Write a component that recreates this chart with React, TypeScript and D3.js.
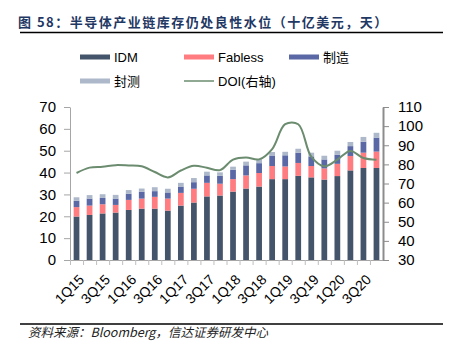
// Semiconductor inventory chart: stacked bars (left axis) + DOI line (right axis)

import React, { useEffect, useRef } from 'react'
import * as d3 from 'd3'

const quarters = [
  '1Q15', '2Q15', '3Q15', '4Q15', '1Q16', '2Q16', '3Q16', '4Q16',
  '1Q17', '2Q17', '3Q17', '4Q17', '1Q18', '2Q18', '3Q18', '4Q18',
  '1Q19', '2Q19', '3Q19', '4Q19', '1Q20', '2Q20', '3Q20', '4Q20',
]
const idm = [19.9, 20.6, 21.3, 21.7, 22.9, 23.5, 23.5, 22.6, 24.9, 26.3, 29.1, 29.5, 31.3, 32.7, 33.6, 37.0, 37.0, 38.5, 37.8, 36.8, 38.4, 41.0, 42.1, 42.1]
const fabless = [4.3, 4.3, 4.2, 3.5, 4.6, 4.6, 5.4, 5.5, 5.8, 6.3, 6.2, 5.4, 5.7, 6.0, 6.2, 6.0, 5.8, 5.9, 5.2, 5.1, 5.6, 6.6, 7.0, 7.5]
const foundry = [2.9, 3.2, 2.9, 2.9, 2.8, 3.1, 2.6, 2.8, 2.9, 3.0, 3.4, 3.6, 4.3, 4.6, 4.5, 4.8, 5.1, 4.7, 4.4, 4.1, 4.1, 4.5, 5.0, 6.4]
const osat = [1.6, 1.6, 1.7, 1.7, 1.7, 1.5, 1.8, 1.7, 1.7, 1.9, 1.7, 1.6, 1.4, 1.7, 1.9, 1.6, 1.6, 1.8, 1.7, 1.7, 1.9, 1.9, 2.2, 2.2]
const doi = [75.5, 78.3, 78.8, 79.6, 79.4, 79.0, 76.0, 73.2, 76.8, 79.3, 78.2, 77.0, 82.5, 83.6, 82.6, 88.0, 101.0, 101.0, 84.0, 79.0, 82.5, 87.0, 83.3, 82.4]

const seriesNames = ['IDM', 'Fabless', '制造', '封测']
const seriesColors = ['#44546A', '#FF7C80', '#5A69A6', '#ADB9CA']
const lineName = 'DOI(右轴)'
const lineColor = '#6B8C6F'

const leftTicks = [0, 10, 20, 30, 40, 50, 60, 70]
const rightTicks = [30, 40, 50, 60, 70, 80, 90, 100, 110]

const W = 453
const H = 351
const latin = '"Liberation Sans", Arial, "Noto Sans CJK SC", sans-serif'
const cjk = '"Noto Sans CJK SC", "Liberation Sans", sans-serif'

const App = () => {
  const ref = useRef<SVGSVGElement>(null)

  useEffect(() => {
    const svg = d3.select(ref.current)
    svg.selectAll('*').remove()

    const plot = { left: 70, right: 383, top: 107, bottom: 260 }

    // Title and rules
    svg.append('text')
      .attr('x', 18).attr('y', 27)
      .style('font-family', cjk).style('font-size', '13px').style('font-weight', 'bold')
      .style('letter-spacing', '1.5px')
      .attr('fill', '#1F3864')
      .text('图 58：半导体产业链库存仍处良性水位（十亿美元，天）')
    svg.append('line').attr('x1', 20).attr('x2', 443).attr('y1', 32.5).attr('y2', 32.5)
      .attr('stroke', '#000').attr('stroke-width', 1.5)
    svg.append('line').attr('x1', 20).attr('x2', 443).attr('y1', 324).attr('y2', 324)
      .attr('stroke', '#000').attr('stroke-width', 1.5)
    svg.append('text')
      .attr('x', 28).attr('y', 337)
      .style('font-family', cjk).style('font-size', '12.5px').style('font-style', 'italic')
      .attr('fill', '#222')
      .text('资料来源：Bloomberg，信达证券研发中心')

    // Legend
    const legend = [
      { name: seriesNames[0], color: seriesColors[0], x: 80, y: 57, type: 'bar' },
      { name: seriesNames[1], color: seriesColors[1], x: 184, y: 57, type: 'bar' },
      { name: seriesNames[2], color: seriesColors[2], x: 289, y: 57, type: 'bar' },
      { name: seriesNames[3], color: seriesColors[3], x: 80, y: 81, type: 'bar' },
      { name: lineName, color: lineColor, x: 184, y: 81, type: 'line' },
    ]
    legend.forEach(d => {
      if (d.type === 'bar') {
        svg.append('rect').attr('x', d.x).attr('y', d.y - 2.5).attr('width', 30).attr('height', 5).attr('fill', d.color)
      } else {
        svg.append('line').attr('x1', d.x).attr('x2', d.x + 30).attr('y1', d.y).attr('y2', d.y)
          .attr('stroke', d.color).attr('stroke-width', 1.5)
      }
      svg.append('text').attr('x', d.x + 34).attr('y', d.y + 4.5)
        .style('font-family', latin).style('font-size', '13px')
        .attr('fill', '#000').text(d.name)
    })

    // Scales
    const x = d3.scaleBand().domain(quarters).range([plot.left, plot.right]).paddingInner(0.56).paddingOuter(0.28)
    const yL = d3.scaleLinear().domain([0, 70]).range([plot.bottom, plot.top])
    const yR = d3.scaleLinear().domain([30, 110]).range([plot.bottom, plot.top])

    // Stacked bars
    const rows = quarters.map((q, i) => ({ q, s0: idm[i], s1: fabless[i], s2: foundry[i], s3: osat[i] }))
    const stack = d3.stack<any>().keys(['s0', 's1', 's2', 's3'])(rows)
    stack.forEach((layer, k) => {
      svg.append('g').attr('fill', seriesColors[k])
        .selectAll('rect').data(layer).join('rect')
        .attr('x', d => x(d.data.q))
        .attr('width', x.bandwidth())
        .attr('y', d => yL(d[1]))
        .attr('height', d => yL(d[0]) - yL(d[1]))
    })

    // DOI line
    const line = d3.line<number>()
      .x((_, i) => x(quarters[i]) + x.bandwidth() / 2)
      .y(d => yR(d))
      .curve(d3.curveCatmullRom.alpha(0.5))
    svg.append('path').datum(doi).attr('d', line)
      .attr('fill', 'none').attr('stroke', lineColor).attr('stroke-width', 2)

    // Left axis
    const left = svg.append('g').attr('transform', `translate(${plot.left}, 0)`)
      .call(d3.axisLeft(yL).tickValues(leftTicks).tickSize(6).tickSizeOuter(0).tickPadding(8))
    left.select('path').attr('stroke', '#A6A6A6')
    left.selectAll('line').attr('stroke', '#A6A6A6')
    left.selectAll('text').style('font-family', latin).style('font-size', '15px').attr('fill', '#000')

    // Right axis
    const right = svg.append('g').attr('transform', `translate(${plot.right}, 0)`)
      .call(d3.axisRight(yR).tickValues(rightTicks).tickSize(6).tickSizeOuter(0).tickPadding(9))
    right.select('path').attr('stroke', '#8C8C8C').attr('stroke-width', 2)
    right.selectAll('line').attr('stroke', '#8C8C8C')
    right.selectAll('text').style('font-family', latin).style('font-size', '15px').attr('fill', '#000')

    // Bottom axis: line, ticks at band boundaries, rotated labels every other quarter
    const bottom = svg.append('g')
    bottom.append('line').attr('x1', plot.left).attr('x2', plot.right)
      .attr('y1', plot.bottom + 0.5).attr('y2', plot.bottom + 0.5).attr('stroke', '#A6A6A6')
    const gap = (x.step() - x.bandwidth()) / 2
    bottom.selectAll('.tick').data(quarters).join('line')
      .attr('x1', d => x(d) - gap + 0.5).attr('x2', d => x(d) - gap + 0.5)
      .attr('y1', plot.bottom).attr('y2', plot.bottom + 5)
      .attr('stroke', '#BFBFBF')
    bottom.selectAll('text').data(quarters.filter((_, i) => i % 2 === 0)).join('text')
      .attr('transform', d => `translate(${x(d) + x.bandwidth() / 2 + 5}, 277) rotate(-45)`)
      .attr('text-anchor', 'end').attr('dy', '0.35em')
      .style('font-family', latin).style('font-size', '14px').attr('fill', '#000')
      .text(d => d)
  }, [])

  return (
    <div style={{ position: 'absolute', left: 0, top: 0 }}>
      <svg ref={ref} width={W} height={H} style={{ display: 'block', background: '#fff' }} />
    </div>
  )
}

export default App
